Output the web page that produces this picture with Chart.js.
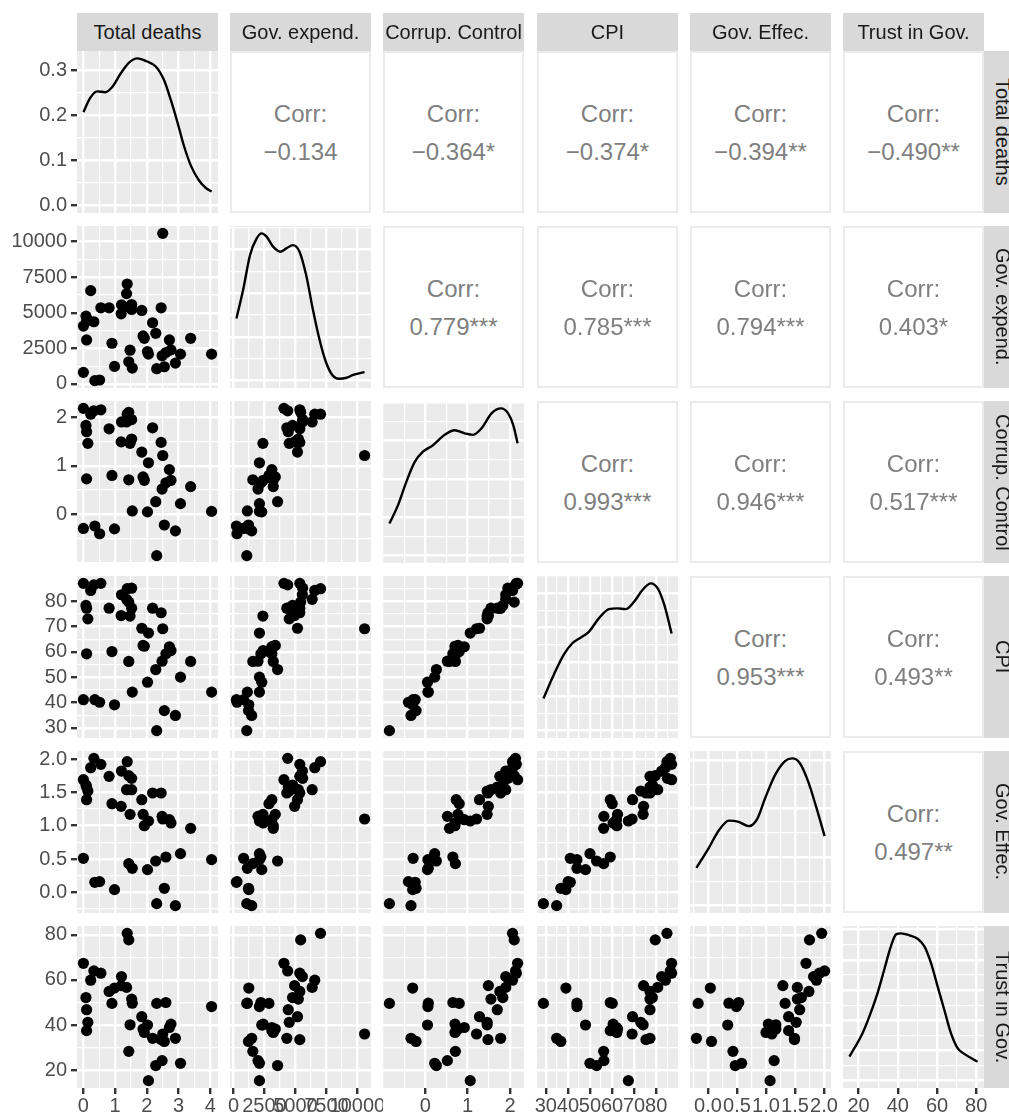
<!DOCTYPE html>
<html>
<head>
<meta charset="utf-8">
<title>Pairs plot</title>
<script src="https://cdn.jsdelivr.net/npm/chart.js@4.4.1/dist/chart.umd.min.js"></script>
<style>
  html, body { margin: 0; padding: 0; background: #fff; overflow: hidden; }
  #wrap { position: relative; width: 1009px; height: 1118px; overflow: hidden;
          font-family: "Liberation Sans", Arial, sans-serif; }
  #wrap canvas { position: absolute; }
  .strip { position: absolute; background: #D9D9D9; color: #1A1A1A; font-size: 20px;
           text-align: center; white-space: nowrap; overflow: hidden; }
  .strip.top { height: 38px; line-height: 38px; }
  .strip.right { width: 38px; line-height: 38px; writing-mode: vertical-rl; }
  .corr { position: absolute; background: #fff; box-shadow: inset 0 0 0 2px #EBEBEB;
          color: #7F7F7F; font-size: 24px; }
  .corr div { position: absolute; left: 0; right: 0; text-align: center; line-height: 24px; height: 24px; }
</style>
</head>
<body>
<div id="wrap"></div>
<script>
// one entry per country, null = missing
const varNames = ['Total deaths', 'Gov. expend.', 'Corrup. Control', 'CPI', 'Gov. Effec.', 'Trust in Gov.'];

const totalDeaths   = [0.00, 0.00, 0.08, 0.10, 0.14, 0.10, 0.23, 0.33, 0.55, 0.36, 0.51, 0.81, 0.90, 0.98,
                       1.38, 1.52, 1.20, 1.36, 1.43, 1.52, 1.19, 1.47, 1.43, 1.54,
                       1.84, 2.05, 1.88, 1.92, 2.02, 2.18, 2.28, 2.31,
                       2.50, 2.45, 2.48, 2.60, 2.55, 2.71, 2.76, 2.90, 3.06, 3.38, 4.04];
const govExpend     = [4070, 814, 4767, 4419, 4500, 3093, 6558, 4372, 5349, 233, 279, 5349, 2860, 1233,
                       7023, 5581, 5558, 6349, 5419, 5233, 4930, 2372, 1558, 1116,
                       5163, 2093, 3372, 3209, 2279, 4302, 3558, 1070,
                       10581, 5349, 1977, 2209, 1209, 3093, 2395, 1465, 2093, 3209, 2093];
const corrupControl = [2.18, -0.29, 1.83, 1.70, 1.46, 0.73, 2.06, 2.13, 2.15, -0.24, -0.40, 1.76, 0.80, -0.30,
                       2.06, 1.95, 1.90, 1.90, 2.10, 1.55, 1.49, 1.46, 0.71, 0.07,
                       1.28, 1.06, 0.77, 0.70, 0.05, 1.78, 0.26, -0.85,
                       1.21, 1.48, 0.52, 0.65, -0.22, 0.92, 0.70, -0.34, 0.22, 0.57, 0.06];
const cpi           = [87.0, 41.1, 78.3, 77.2, 73.0, 59.2, 84.2, 86.4, 87.0, 41.1, 40.1, 77.2, 60.1, 39.1,
                       84.9, 85.1, 82.5, 80.7, 79.6, 77.2, 74.3, 74.1, 56.2, 44.1,
                       69.3, 67.4, 62.5, 62.2, 48.0, 77.2, 53.0, 28.9,
                       69.1, 75.4, 56.3, 59.2, 36.8, 62.0, 60.5, 34.9, 50.0, 56.2, 44.1];
const govEffec      = [1.69, 0.51, 1.61, 1.58, 1.52, 1.39, 1.87, 2.01, 1.92, 0.15, 0.16, 1.74, 1.33, 0.04,
                       1.96, 1.71, 1.82, 1.54, 1.75, 1.54, 1.29, 1.17, 0.43, 0.36,
                       1.39, 1.07, 1.17, 1.00, 0.34, 1.49, 0.47, -0.17,
                       1.10, 1.49, 1.14, 0.53, 0.06, 1.09, 1.04, -0.20, 0.58, 0.96, 0.49];
const trustGov      = [67.4, null, 52.2, 46.8, 41.2, 37.5, 59.9, 64.0, 63.0, null, null, 54.9, 49.6, 56.4,
                       80.7, null, 61.5, 56.7, 77.8, 51.5, 57.5, 40.1, 28.3, 49.7,
                       43.7, 15.3, 38.2, 36.7, 40.0, 34.1, 22.0, 49.6,
                       36.0, 33.5, 24.2, 50.0, 32.7, 38.9, 40.4, 34.1, 23.0, null, 48.2];

// axis breaks and labels
const deathsTicks  = [0, 1, 2, 3, 4];
const deathsLabels = ['0', '1', '2', '3', '4'];
const govExpTicks  = [0, 2500, 5000, 7500, 10000];
const govExpLabels = ['0', '2500', '5000', '7500', '10000'];
const corrupTicks  = [0, 1, 2];
const corrupLabels = ['0', '1', '2'];
const cpiTicks     = [30, 40, 50, 60, 70, 80];
const cpiLabels    = ['30', '40', '50', '60', '70', '80'];
const govEffTicks  = [0, 0.5, 1, 1.5, 2];
const govEffLabels = ['0.0', '0.5', '1.0', '1.5', '2.0'];
const trustTicks   = [20, 40, 60, 80];
const trustLabels  = ['20', '40', '60', '80'];

// density curves on the diagonal
const deathsDensX = [0.0, 0.21, 0.43, 0.69, 0.90, 1.17, 1.43, 1.70, 2.01, 2.28, 2.54, 2.75, 2.97, 3.17, 3.39, 3.65, 3.86, 4.04];
const deathsDensY = [0.207, 0.238, 0.253, 0.251, 0.262, 0.292, 0.316, 0.326, 0.319, 0.308, 0.278, 0.235, 0.183, 0.132, 0.088, 0.055, 0.039, 0.031];
const govExpDensX = [233, 799, 1334, 1869, 2268, 2668, 3195, 3810, 4265, 4792, 5327, 5863, 6390, 6925, 7460, 7987, 8522, 9058, 9720, 10581];
const govExpDensY = [7.10e-5, 1.055e-4, 1.437e-4, 1.627e-4, 1.685e-4, 1.648e-4, 1.533e-4, 1.475e-4, 1.513e-4, 1.551e-4,
                     1.475e-4, 1.208e-4, 8.25e-5, 4.80e-5, 2.13e-5, 6.1e-6, 2.2e-6, 3.0e-6, 6.8e-6, 9.8e-6];
const corrupDensX = [-0.85, -0.649, -0.45, -0.254, -0.057, 0.18, 0.457, 0.694, 0.93, 1.128, 1.327, 1.564, 1.784, 1.957, 2.076, 2.18];
const corrupDensY = [0.0835, 0.131, 0.1925, 0.244, 0.271, 0.288, 0.315, 0.327, 0.319, 0.315, 0.332, 0.371, 0.384, 0.371, 0.341, 0.293];
const cpiDensX    = [28.9, 33.5, 38.0, 41.9, 45.7, 49.5, 54.0, 58.6, 62.4, 66.2, 70.0, 73.8, 77.6, 80.7, 83.7, 87.0];
const cpiDensY    = [0.00467, 0.00806, 0.01099, 0.01269, 0.01352, 0.01438, 0.01634, 0.01769, 0.0178, 0.01769,
                     0.01877, 0.02047, 0.02144, 0.0207, 0.0183, 0.01415];
const govEffDensX = [-0.20, 0.017, 0.188, 0.359, 0.53, 0.70, 0.844, 0.986, 1.157, 1.328, 1.453, 1.585, 1.726, 1.87, 2.01];
const govEffDensY = [0.155, 0.239, 0.310, 0.350, 0.345, 0.327, 0.355, 0.443, 0.538, 0.595, 0.606, 0.586, 0.511, 0.402, 0.286];
const trustDensX  = [15.3, 22.0, 25.5, 29.7, 33.1, 36.5, 39.1, 41.6, 45.9, 50.1, 53.5, 56.9, 60.3, 63.7, 67.1, 70.5, 73.9, 80.7];
const trustDensY  = [0.00397, 0.00786, 0.01063, 0.01453, 0.0184, 0.02227, 0.02421, 0.02438, 0.02406, 0.0235,
                     0.02227, 0.0195, 0.01561, 0.01174, 0.00786, 0.00537, 0.00443, 0.00314];

const deathsDensTicks  = [0, 0.1, 0.2, 0.3];
const deathsDensLabels = ['0.0', '0.1', '0.2', '0.3'];
const govExpDensTicks  = [0, 0.00005, 0.0001, 0.00015];
const corrupDensTicks  = [0, 0.1, 0.2, 0.3, 0.4];
const cpiDensTicks     = [0, 0.005, 0.01, 0.015, 0.02];
const govEffDensTicks  = [0, 0.2, 0.4, 0.6];
const trustDensTicks   = [0, 0.005, 0.01, 0.015, 0.02, 0.025];

// upper triangle, row by row
const corrValues = ['\u22120.134', '\u22120.364*', '\u22120.374*', '\u22120.394**', '\u22120.490**',
                    '0.779***', '0.785***', '0.794***', '0.403*',
                    '0.993***', '0.946***', '0.517***',
                    '0.953***', '0.493**',
                    '0.497**'];

const vars = [
  { values: totalDeaths,   ticks: deathsTicks, labels: deathsLabels, dx: deathsDensX, dy: deathsDensY, dTicks: deathsDensTicks, dLabels: deathsDensLabels },
  { values: govExpend,     ticks: govExpTicks, labels: govExpLabels, dx: govExpDensX, dy: govExpDensY, dTicks: govExpDensTicks, dLabels: [] },
  { values: corrupControl, ticks: corrupTicks, labels: corrupLabels, dx: corrupDensX, dy: corrupDensY, dTicks: corrupDensTicks, dLabels: [] },
  { values: cpi,           ticks: cpiTicks,    labels: cpiLabels,    dx: cpiDensX,    dy: cpiDensY,    dTicks: cpiDensTicks,    dLabels: [] },
  { values: govEffec,      ticks: govEffTicks, labels: govEffLabels, dx: govEffDensX, dy: govEffDensY, dTicks: govEffDensTicks, dLabels: [] },
  { values: trustGov,      ticks: trustTicks,  labels: trustLabels,  dx: trustDensX,  dy: trustDensY,  dTicks: trustDensTicks,  dLabels: [] }
];

// layout of the grid
const colX = [77, 230, 383, 537, 690, 843];
const rowY = [51, 226, 401, 576, 751, 926];
const W = 141, H = 162, PAD = 12;

Chart.defaults.font.family = '"Liberation Sans", Arial, sans-serif';

const wrap = document.getElementById('wrap');

function expandRange(vals) {
  const v = vals.filter(x => x !== null);
  const lo = Math.min(...v), hi = Math.max(...v), pad = (hi - lo) * 0.05;
  return [lo - pad, hi + pad];
}

// major breaks plus minor ones halfway, like ggplot
function gridBreaks(majors, lo, hi) {
  const step = majors[1] - majors[0];
  const ext = [majors[0] - step].concat(majors, [majors[majors.length - 1] + step]);
  const out = [];
  ext.forEach((v, i) => {
    out.push(v);
    if (i < ext.length - 1) out.push(v + step / 2);
  });
  return out.filter(v => v >= lo && v <= hi);
}

function axis(dir, majors, labels, lo, hi, show) {
  const eps = (hi - lo) * 1e-6;
  const majorIdx = v => majors.findIndex(m => Math.abs(m - v) < eps);
  const breaks = gridBreaks(majors, lo, hi);
  return {
    type: 'linear', min: lo, max: hi,
    afterBuildTicks: s => { s.ticks = breaks.map(v => ({ value: v })); },
    afterFit: s => {
      if (dir === 'x') s.height = show ? 30 : 0; else s.width = show ? 77 : 0;
      s.paddingLeft = s.paddingRight = s.paddingTop = s.paddingBottom = 0;
    },
    border: { display: false },
    grid: {
      color: '#FFFFFF',
      lineWidth: c => (c.tick && majorIdx(c.tick.value) >= 0) ? 2.4 : 1.2,
      drawTicks: show, tickLength: 6, tickWidth: 2.4,
      tickColor: c => (c.tick && majorIdx(c.tick.value) >= 0) ? '#333333' : 'rgba(0,0,0,0)'
    },
    ticks: {
      display: show, autoSkip: false, maxRotation: 0, minRotation: 0,
      padding: dir === 'x' ? 0 : 4, color: '#4D4D4D', font: { size: 20 },
      callback: v => { const i = majorIdx(v); return i < 0 ? '' : (labels[i] || ''); }
    }
  };
}

const panelBg = {
  id: 'panelBg',
  beforeDraw(chart) {
    const a = chart.chartArea, g = chart.ctx;
    g.save();
    g.fillStyle = '#EBEBEB';
    g.fillRect(a.left, a.top, a.right - a.left, a.bottom - a.top);
    g.restore();
  }
};

function makeChart(r, c) {
  const X = vars[c], Y = vars[r];
  const showX = r === 5, showY = c === 0;
  const [xlo, xhi] = expandRange(X.values);
  let ylo, yhi, yMaj, yLab, type, dataset;

  if (r === c) {
    const peak = Math.max(...X.dy);
    ylo = -0.05 * peak; yhi = 1.05 * peak;
    yMaj = X.dTicks; yLab = X.dLabels; type = 'line';
    dataset = {
      data: X.dx.map((x, i) => ({ x, y: X.dy[i] })),
      borderColor: '#000', borderWidth: 2.4, pointRadius: 0,
      cubicInterpolationMode: 'monotone', fill: false
    };
  } else {
    [ylo, yhi] = expandRange(Y.values);
    yMaj = Y.ticks; yLab = Y.labels; type = 'scatter';
    const pts = [];
    X.values.forEach((x, i) => {
      const y = Y.values[i];
      if (x !== null && y !== null) pts.push({ x, y });
    });
    dataset = { data: pts, pointRadius: 5.6, pointBackgroundColor: '#000', pointBorderColor: '#000', pointBorderWidth: 0 };
  }

  const padL = showY ? 0 : PAD, padB = showX ? 0 : PAD;
  const left = colX[c] - (showY ? 77 : PAD);
  const top = rowY[r] - PAD;
  const cw = W + (showY ? 77 : PAD) + PAD;
  const ch = H + PAD + (showX ? 30 : PAD);

  const cv = document.createElement('canvas');
  cv.width = cw; cv.height = ch;
  cv.style.left = left + 'px'; cv.style.top = top + 'px';
  cv.style.width = cw + 'px'; cv.style.height = ch + 'px';
  wrap.appendChild(cv);

  new Chart(cv.getContext('2d'), {
    type,
    data: { datasets: [dataset] },
    options: {
      responsive: false, animation: false, devicePixelRatio: 1, events: [],
      layout: { padding: { left: padL, right: PAD, top: PAD, bottom: padB } },
      plugins: { legend: { display: false }, tooltip: { enabled: false } },
      scales: {
        x: axis('x', X.ticks, X.labels, xlo, xhi, showX),
        y: axis('y', yMaj, yLab, ylo, yhi, showY)
      }
    },
    plugins: [panelBg]
  });
}

function makeCorr(r, c, txt) {
  const d = document.createElement('div');
  d.className = 'corr';
  d.style.left = colX[c] + 'px'; d.style.top = rowY[r] + 'px';
  d.style.width = W + 'px'; d.style.height = H + 'px';
  const l1 = document.createElement('div');
  l1.textContent = 'Corr:';
  l1.style.top = (H / 2 - 18 - 12) + 'px';
  const l2 = document.createElement('div');
  l2.textContent = txt;
  l2.style.top = (H / 2 + 20 - 12) + 'px';
  d.appendChild(l1); d.appendChild(l2);
  wrap.appendChild(d);
}

let k = 0;
for (let r = 0; r < 6; r++) {
  for (let c = 0; c < 6; c++) {
    if (c > r) makeCorr(r, c, corrValues[k++]);
    else makeChart(r, c);
  }
}

// strips with the variable names
varNames.forEach((name, i) => {
  const t = document.createElement('div');
  t.className = 'strip top';
  t.textContent = name;
  t.style.left = colX[i] + 'px'; t.style.top = '13px'; t.style.width = W + 'px';
  wrap.appendChild(t);

  const s = document.createElement('div');
  s.className = 'strip right';
  s.textContent = name;
  s.style.left = '984px'; s.style.top = rowY[i] + 'px'; s.style.height = H + 'px';
  wrap.appendChild(s);
});
</script>
</body>
</html>
